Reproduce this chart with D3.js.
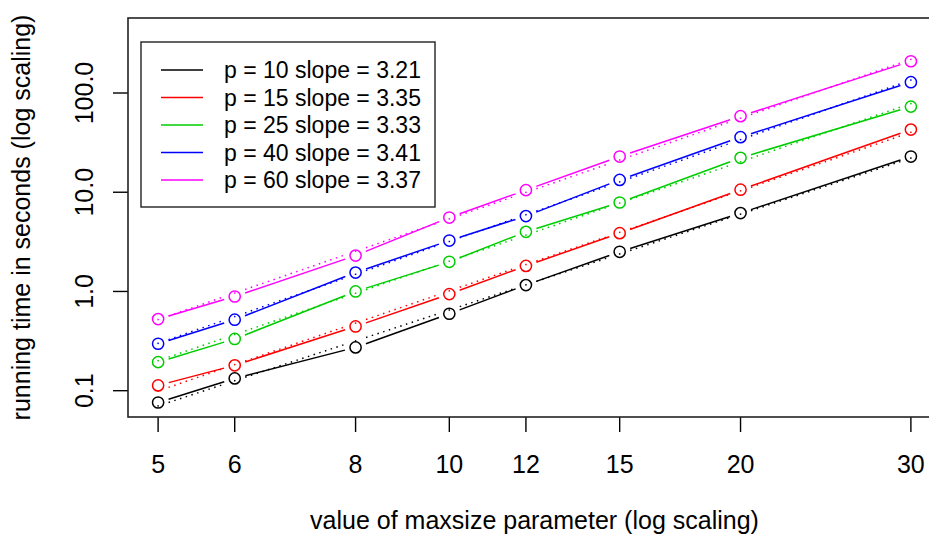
<!DOCTYPE html>
<html>
<head>
<meta charset="utf-8">
<script src="https://cdn.jsdelivr.net/npm/d3@7"></script>
<style>
  html, body { margin: 0; padding: 0; background: #fff; }
  svg { display: block; font-family: "Liberation Sans", Arial, Helvetica, sans-serif; }
</style>
</head>
<body>
<svg id="chart" width="929" height="537"></svg>
<script>
// running time vs maxsize, log-log, one series per p
const maxsize = [5, 6, 8, 10, 12, 15, 20, 30];
const pValues = [10, 15, 25, 40, 60];
const slopes  = [3.21, 3.35, 3.33, 3.41, 3.37];
const colors  = ['#000000', '#ff0000', '#00cd00', '#0000ff', '#ff00ff'];

const timeP10 = [0.076, 0.133, 0.273, 0.596, 1.16, 2.51, 6.16, 22.9];
const timeP15 = [0.113, 0.180, 0.444, 0.94, 1.81, 3.87, 10.6, 42.8];
const timeP25 = [0.194, 0.332, 1.00, 1.99, 3.99, 7.88, 22.2, 72.9];
const timeP40 = [0.297, 0.519, 1.55, 3.26, 5.75, 13.3, 35.9, 128.5];
const timeP60 = [0.527, 0.89, 2.30, 5.56, 10.5, 22.9, 58.4, 209];
const times = [timeP10, timeP15, timeP25, timeP40, timeP60];

const yTicks = [0.1, 1, 10, 100];

const svg = d3.select('#chart');

// plot region (right edge runs past the page, as in the saved device)
const plot = { left: 128, right: 941, top: 18, bottom: 417 };

// R-style 4% extension of the log x range
const lx = d3.extent(maxsize).map(Math.log10);
const ext = (lx[1] - lx[0]) * 0.04;
const x = d3.scaleLog()
  .domain([Math.pow(10, lx[0] - ext), Math.pow(10, lx[1] + ext)])
  .range([plot.left, plot.right]);

const y = d3.scaleLog()
  .domain([0.0543, 570])
  .range([plot.bottom, plot.top]);

const gap = 11;      // type="b" gap around each point
const axisFont = 25;

// ── Axes ───────────────────────────────────────────────────────────────────
const gx = svg.append('g').attr('transform', `translate(0,${plot.bottom})`);
gx.selectAll('line').data(maxsize).join('line')
  .attr('x1', d => x(d)).attr('x2', d => x(d))
  .attr('y1', 0).attr('y2', 15)
  .attr('stroke', '#000').attr('stroke-width', 1.4);
gx.selectAll('text').data(maxsize).join('text')
  .attr('x', d => x(d)).attr('y', 56)
  .attr('text-anchor', 'middle')
  .style('font-size', axisFont + 'px')
  .text(d => d);

const gy = svg.append('g').attr('transform', `translate(${plot.left},0)`);
gy.selectAll('line').data(yTicks).join('line')
  .attr('y1', d => y(d)).attr('y2', d => y(d))
  .attr('x1', 0).attr('x2', -15)
  .attr('stroke', '#000').attr('stroke-width', 1.4);
gy.selectAll('text').data(yTicks).join('text')
  .attr('transform', d => `translate(-35,${y(d)}) rotate(-90)`)
  .attr('text-anchor', 'middle')
  .style('font-size', axisFont + 'px')
  .text(d => d3.format('.1f')(d));

svg.append('text')
  .attr('x', (plot.left + plot.right) / 2).attr('y', 529)
  .attr('text-anchor', 'middle')
  .style('font-size', axisFont + 'px')
  .text('value of maxsize parameter (log scaling)');

svg.append('text')
  .attr('transform', `translate(30,${(plot.top + plot.bottom) / 2}) rotate(-90)`)
  .attr('text-anchor', 'middle')
  .style('font-size', axisFont + 'px')
  .text('running time in seconds (log scaling)');

// ── Series ─────────────────────────────────────────────────────────────────
// segments between consecutive points, trimmed by `gap` at both ends
function gappedSegments(px) {
  const segs = [];
  for (let i = 0; i < px.length - 1; i++) {
    const [x0, y0] = px[i], [x1, y1] = px[i + 1];
    const len = Math.hypot(x1 - x0, y1 - y0);
    if (len <= 2 * gap) continue;
    const ux = (x1 - x0) / len, uy = (y1 - y0) / len;
    segs.push([x0 + ux * gap, y0 + uy * gap, x1 - ux * gap, y1 - uy * gap]);
  }
  return segs;
}

const lmx = maxsize.map(Math.log10);
const meanLx = d3.mean(lmx);

times.forEach((vals, k) => {
  const g = svg.append('g');
  const col = colors[k];

  // fitted line on log-log scale with the reported slope
  const meanLy = d3.mean(vals.map(Math.log10));
  const b0 = meanLy - slopes[k] * meanLx;
  const fitted = maxsize.map(m => Math.pow(10, b0 + slopes[k] * Math.log10(m)));
  const fitPx = maxsize.map((m, i) => [x(m), y(fitted[i])]);

  g.selectAll('line.fit').data(gappedSegments(fitPx)).join('line')
    .attr('class', 'fit')
    .attr('x1', d => d[0]).attr('y1', d => d[1])
    .attr('x2', d => d[2]).attr('y2', d => d[3])
    .attr('stroke', col).attr('stroke-width', 1.5)
    .attr('stroke-dasharray', '1.5,4.5');
  g.selectAll('rect.fitpt').data(fitPx).join('rect')
    .attr('class', 'fitpt')
    .attr('x', d => d[0] - 0.75).attr('y', d => d[1] - 0.75)
    .attr('width', 1.5).attr('height', 1.5)
    .attr('fill', col);

  // observed times
  const obsPx = maxsize.map((m, i) => [x(m), y(vals[i])]);
  g.selectAll('line.obs').data(gappedSegments(obsPx)).join('line')
    .attr('class', 'obs')
    .attr('x1', d => d[0]).attr('y1', d => d[1])
    .attr('x2', d => d[2]).attr('y2', d => d[3])
    .attr('stroke', col).attr('stroke-width', 1.5);
  g.selectAll('circle').data(obsPx).join('circle')
    .attr('cx', d => d[0]).attr('cy', d => d[1])
    .attr('r', 5.6)
    .attr('fill', 'none').attr('stroke', col).attr('stroke-width', 1.5);
});

// ── Box ────────────────────────────────────────────────────────────────────
svg.append('rect')
  .attr('x', plot.left).attr('y', plot.top)
  .attr('width', plot.right - plot.left).attr('height', plot.bottom - plot.top)
  .attr('fill', 'none').attr('stroke', '#222').attr('stroke-width', 1.6);

// ── Legend ─────────────────────────────────────────────────────────────────
const legend = svg.append('g');
legend.append('rect')
  .attr('x', 141).attr('y', 42).attr('width', 294).attr('height', 165)
  .attr('fill', '#fff').attr('stroke', '#222').attr('stroke-width', 1.4);

const rowY = d3.scalePoint().domain(d3.range(pValues.length)).range([70, 180]);
pValues.forEach((p, k) => {
  const yy = rowY(k);
  legend.append('line')
    .attr('x1', 161).attr('x2', 203).attr('y1', yy).attr('y2', yy)
    .attr('stroke', colors[k]).attr('stroke-width', 1.5);
  legend.append('text')
    .attr('x', 224).attr('y', yy)
    .attr('dy', '0.35em')
    .style('font-size', '23px')
    .text(`p = ${p} slope = ${slopes[k].toFixed(2)}`);
});
</script>
</body>
</html>
